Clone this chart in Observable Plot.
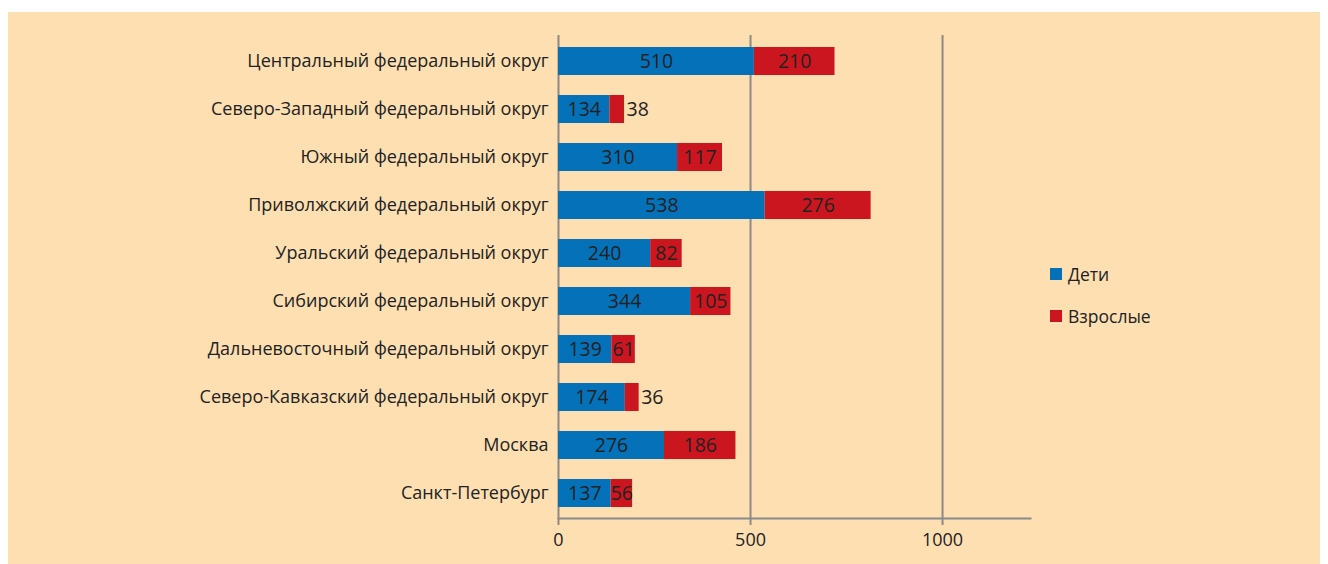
<!DOCTYPE html>
<html><head><meta charset="utf-8">
<script src="https://cdn.jsdelivr.net/npm/d3@7"></script>
<script src="https://cdn.jsdelivr.net/npm/@observablehq/plot@0.6"></script>
<style>
html,body{margin:0;padding:0;background:#fff;}
#wrap{position:relative;width:1328px;height:564px;overflow:hidden;font-family:"Open Sans",sans-serif;}
#bg{position:absolute;left:8px;top:12px;width:1312px;height:552px;background:#FDDFB2;}
#chart{position:absolute;left:0;top:0;}
.leg{position:absolute;font-size:17.5px;color:#222;display:flex;align-items:center;line-height:20px;}
.leg span{display:inline-block;width:12px;height:12px;margin-right:6px;}
</style></head>
<body>
<div id="wrap"><div id="bg"></div><div id="chart"></div>
<div class="leg" style="left:1050px;top:264px;"><span style="background:#0571B9"></span>Дети</div>
<div class="leg" style="left:1050px;top:306px;"><span style="background:#CC161F"></span>Взрослые</div>
</div>
<script>
const regions = [
  "Центральный федеральный округ",
  "Северо-Западный федеральный округ",
  "Южный федеральный округ",
  "Приволжский федеральный округ",
  "Уральский федеральный округ",
  "Сибирский федеральный округ",
  "Дальневосточный федеральный округ",
  "Северо-Кавказский федеральный округ",
  "Москва",
  "Санкт-Петербург"
];
const children = [510, 134, 310, 538, 240, 344, 139, 174, 276, 137];
const adults   = [210, 38, 117, 276, 82, 105, 61, 36, 186, 56];
const seriesNames = ["Дети", "Взрослые"];
const seriesColors = ["#0571B9", "#CC161F"];
const xTicks = [0, 500, 1000];

const rows = [];
regions.forEach((r, i) => {
  rows.push({region: r, series: seriesNames[0], value: children[i]});
  rows.push({region: r, series: seriesNames[1], value: adults[i]});
});
const outsideThreshold = 50;

const plot = Plot.plot({
  width: 1328, height: 564,
  marginLeft: 558, marginRight: 298, marginTop: 35, marginBottom: 46,
  style: {background: "transparent", fontFamily: "Open Sans, sans-serif", color: "#222"},
  x: {domain: [0, 1229], ticks: xTicks, label: null, tickFormat: d3.format("d")},
  y: {domain: regions, paddingInner: 0.42, paddingOuter: 0.21, label: null},
  color: {domain: seriesNames, range: seriesColors},
  marks: [
    Plot.ruleX(xTicks, {stroke: "#8a8a8a", strokeWidth: 2}),
    Plot.barX(rows, Plot.stackX({x: "value", y: "region", fill: "series", order: null})),
    Plot.frame({anchor: "bottom", stroke: "#8a8a8a", strokeWidth: 2}),
    Plot.axisX({ticks: xTicks, tickFormat: d3.format("d"), tickSize: 7, stroke: "#8a8a8a", strokeWidth: 2, fontSize: 18, tickPadding: 8, label: null, fill: "#222"}),
    Plot.axisY({tickSize: 0, tickPadding: 10, fontSize: 18, label: null, fill: "#222"}),
    Plot.text(rows, Plot.stackX({x: "value", y: "region", text: d => d.value >= outsideThreshold ? String(d.value) : "", fontSize: 19.5, fill: "#222", order: null})),
    Plot.text(regions.map((r, i) => ({region: r, total: children[i] + adults[i], a: adults[i]})).filter(d => d.a < outsideThreshold),
      {x: "total", y: "region", text: d => String(d.a), textAnchor: "start", dx: 2, fontSize: 19.5, fill: "#222"})
  ]
});
document.getElementById("chart").appendChild(plot);
</script>
</body></html>
